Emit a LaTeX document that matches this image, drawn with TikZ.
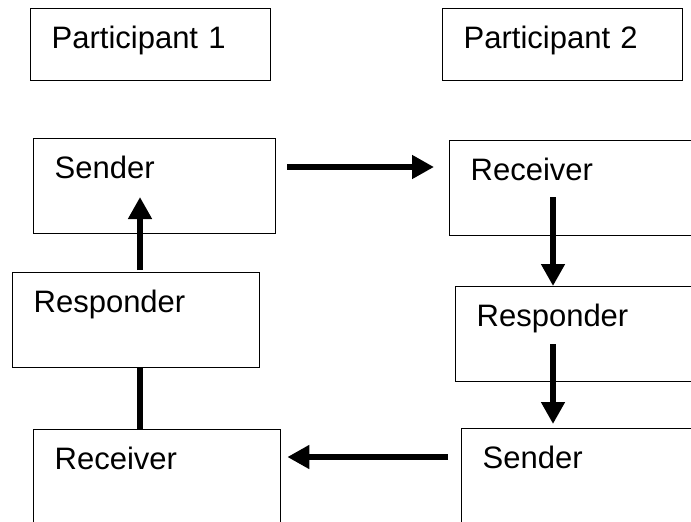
\documentclass[tikz,border=0pt]{standalone}
\usepackage{fontspec}
\setmainfont{Liberation Sans}
\usepackage{tikz}
\usetikzlibrary{arrows.meta}

\newcommand{\boxfont}{\fontsize{23.25}{28}\selectfont}

\tikzset{
    stage/.style={draw, line width=1pt, rectangle, anchor=north west,
        inner xsep=15.75pt, inner ysep=0pt, text width=#1, align=left,
        text height=30pt, text depth=41.25pt, font=\boxfont},
    stage/.default=150pt,
    head/.style={stage=148.5pt, text depth=24pt},
    flow/.style={line width=4.5pt, -{Triangle[length=16.5pt,width=17pt]}},
    link/.style={line width=4.5pt},
}

\begin{document}
\begin{tikzpicture}[x=0.75pt, y=-0.75pt]
        \path[use as bounding box] (0,0) rectangle (691,521);
        \clip (0,0) rectangle (691,521);
        \node[head] (p1) at (30,8) {Participant 1};
        \node[head] (p2) at (442,8) {Participant 2};
        \node[stage] (send1) at (33,138) {Sender};
        \node[stage=163.5pt] (recv2) at (449,140) {Receiver};
        \node[stage=153.75pt] (resp1) at (12,272) {Responder};
        \node[stage=163.5pt] (resp2) at (455,286) {Responder};
        \node[stage=153.75pt] (recv1) at (33,429) {Receiver};
        \node[stage=163.5pt] (send2) at (461,428) {Sender};
        % message across, then answer back
        \draw[flow] ([shift={(11,29)}]send1.north east) -- ([shift={(-15,27)}]recv2.north west);
        \draw[flow] ([shift={(104,57)}]recv2.north west) -- ([shift={(98,0)}]resp2.north west);
        \draw[flow] ([shift={(98,58)}]resp2.north west) -- ([shift={(92,-4)}]send2.north west);
        \draw[flow] ([shift={(-13,29)}]send2.north west) -- ([shift={(6,28)}]recv1.north east);
        \draw[link] ([shift={(128,0)}]resp1.south west) -- ([shift={(107,0)}]recv1.north west);
        \draw[flow] ([shift={(128,-2)}]resp1.north west) -- ([shift={(107,59)}]send1.north west);
    \end{tikzpicture}
\end{document}
